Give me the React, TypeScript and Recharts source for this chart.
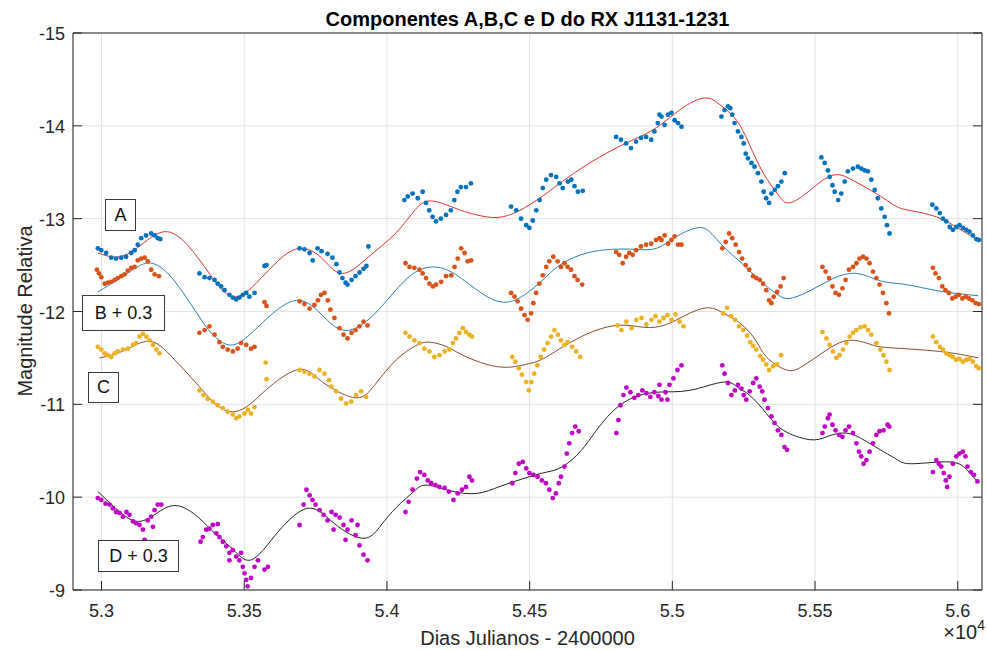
import { ComposedChart, Scatter, Line, XAxis, YAxis, CartesianGrid } from 'recharts';

type Pt = [number, number];

// Componente A (dias julianos - 2400000, magnitude)
const serieA: Pt[] = [
  [52987, -12.68], [52999, -12.66], [53016, -12.63], [53034, -12.58], [53051, -12.57], [53069, -12.58], [53086, -12.59], [53104, -12.63],
  [53116, -12.66], [53127, -12.72], [53139, -12.79], [53156, -12.82], [53174, -12.84], [53186, -12.82], [53197, -12.79], [53206, -12.78],
  [53343, -12.41], [53361, -12.37], [53378, -12.36], [53396, -12.34], [53407, -12.3], [53419, -12.27], [53431, -12.23], [53448, -12.18],
  [53460, -12.15], [53472, -12.13], [53483, -12.15], [53495, -12.18], [53507, -12.2], [53518, -12.16], [53536, -12.2], [53571, -12.49], [53578, -12.5],
  [53694, -12.68], [53711, -12.67], [53729, -12.63], [53740, -12.55], [53757, -12.68], [53771, -12.65], [53792, -12.62], [53809, -12.58],
  [53823, -12.51], [53834, -12.42], [53844, -12.36], [53855, -12.31], [53862, -12.29], [53876, -12.34], [53890, -12.38], [53904, -12.42],
  [53918, -12.46], [53928, -12.49], [53935, -12.7],
  [54061, -13.2], [54073, -13.24], [54090, -13.27], [54108, -13.22], [54125, -13.29], [54137, -13.17], [54148, -13.09], [54160, -13.02],
  [54172, -12.97], [54189, -13.0], [54207, -13.04], [54224, -13.09], [54236, -13.2], [54247, -13.29], [54259, -13.34], [54277, -13.34], [54294, -13.38],
  [54435, -13.13], [54453, -13.09], [54470, -13.0], [54488, -12.93], [54499, -12.9], [54511, -12.98], [54523, -13.09], [54535, -13.2],
  [54546, -13.33], [54558, -13.42], [54575, -13.47], [54593, -13.45], [54605, -13.38], [54616, -13.33], [54634, -13.4], [54646, -13.42],
  [54657, -13.35], [54669, -13.29], [54686, -13.3],
  [54803, -13.88], [54820, -13.85], [54838, -13.81], [54855, -13.76], [54873, -13.83], [54890, -13.87], [54908, -13.88], [54926, -13.85],
  [54937, -13.94], [54949, -14.03], [54955, -14.12], [54962, -14.1], [54973, -14.01], [54985, -14.12], [54997, -14.14], [55008, -14.06],
  [55020, -14.03], [55032, -13.99],
  [55172, -14.1], [55183, -14.17], [55195, -14.21], [55203, -14.19], [55210, -14.12], [55218, -14.03], [55230, -13.94], [55242, -13.88],
  [55250, -13.81], [55257, -13.7], [55265, -13.65], [55277, -13.6], [55288, -13.56], [55300, -13.49], [55312, -13.4], [55320, -13.29],
  [55329, -13.22], [55339, -13.17], [55347, -13.27], [55359, -13.31], [55370, -13.35], [55382, -13.4], [55394, -13.49],
  [55522, -13.66], [55534, -13.6], [55545, -13.52], [55551, -13.45], [55561, -13.36], [55569, -13.29], [55581, -13.2], [55592, -13.27],
  [55604, -13.4], [55615, -13.51], [55633, -13.54], [55650, -13.56], [55662, -13.54], [55674, -13.52], [55685, -13.51], [55697, -13.42],
  [55709, -13.31], [55720, -13.22], [55732, -13.11], [55744, -13.02], [55752, -12.93], [55761, -12.84],
  [55911, -13.15], [55925, -13.11], [55937, -13.06], [55948, -13.0], [55960, -12.97], [55972, -12.91], [55983, -12.88], [55995, -12.91],
  [56006, -12.93], [56018, -12.9], [56030, -12.88], [56041, -12.86], [56053, -12.82], [56065, -12.78], [56074, -12.77],
];

// Componente B + 0.3
const serieB: Pt[] = [
  [52984, -12.45], [52991, -12.41], [52999, -12.37], [53011, -12.3], [53022, -12.31], [53034, -12.32], [53046, -12.34], [53057, -12.36],
  [53069, -12.38], [53081, -12.4], [53092, -12.44], [53104, -12.47], [53116, -12.48], [53127, -12.55], [53139, -12.57], [53151, -12.58],
  [53162, -12.54], [53174, -12.45], [53186, -12.4], [53201, -12.38],
  [53343, -11.77], [53361, -11.8], [53378, -11.84], [53396, -11.75], [53413, -11.67], [53425, -11.62], [53442, -11.59], [53460, -11.57],
  [53477, -11.6], [53489, -11.66], [53507, -11.64], [53524, -11.6], [53536, -11.62], [53571, -12.1], [53578, -12.06],
  [53694, -12.11], [53711, -12.08], [53729, -12.03], [53746, -12.07], [53758, -12.12], [53769, -12.18], [53781, -12.2], [53793, -12.12],
  [53802, -12.02], [53816, -11.93], [53834, -11.82], [53848, -11.75], [53862, -11.71], [53876, -11.77], [53890, -11.8], [53904, -11.84],
  [53918, -11.89], [53932, -11.85],
  [54065, -12.52], [54079, -12.48], [54096, -12.47], [54114, -12.45], [54125, -12.41], [54137, -12.36], [54149, -12.3], [54161, -12.27],
  [54172, -12.29], [54190, -12.32], [54207, -12.38], [54225, -12.39], [54237, -12.48], [54248, -12.57], [54260, -12.68], [54272, -12.63],
  [54283, -12.54], [54295, -12.55],
  [54435, -12.2], [54447, -12.16], [54458, -12.11], [54470, -12.03], [54482, -11.96], [54493, -11.91], [54505, -11.98], [54513, -12.09],
  [54523, -12.2], [54534, -12.3], [54546, -12.39], [54558, -12.48], [54569, -12.54], [54583, -12.59], [54598, -12.54], [54610, -12.48],
  [54622, -12.52], [54633, -12.48], [54645, -12.45], [54657, -12.38], [54668, -12.34], [54684, -12.29],
  [54803, -12.64], [54814, -12.61], [54826, -12.52], [54838, -12.59], [54849, -12.63], [54861, -12.61], [54873, -12.66], [54890, -12.7],
  [54908, -12.72], [54926, -12.73], [54943, -12.77], [54955, -12.79], [54962, -12.77], [54973, -12.82], [54985, -12.73], [54997, -12.77],
  [55008, -12.81], [55020, -12.72], [55032, -12.72],
  [55175, -12.68], [55187, -12.75], [55199, -12.84], [55210, -12.79], [55222, -12.72], [55234, -12.64], [55245, -12.57], [55257, -12.5],
  [55269, -12.45], [55283, -12.38], [55294, -12.36], [55306, -12.34], [55318, -12.3], [55329, -12.23], [55339, -12.12], [55347, -12.09],
  [55355, -12.16], [55367, -12.21], [55379, -12.27], [55390, -12.36],
  [55526, -12.48], [55537, -12.43], [55549, -12.36], [55561, -12.27], [55572, -12.2], [55584, -12.18], [55596, -12.25], [55607, -12.34],
  [55619, -12.45], [55633, -12.48], [55645, -12.52], [55656, -12.57], [55668, -12.59], [55680, -12.57], [55691, -12.52], [55703, -12.43],
  [55715, -12.36], [55726, -12.29], [55738, -12.2], [55750, -12.09], [55759, -11.98],
  [55913, -12.47], [55922, -12.41], [55934, -12.36], [55946, -12.27], [55957, -12.23], [55969, -12.2], [55981, -12.14], [55993, -12.16],
  [56004, -12.18], [56016, -12.14], [56028, -12.16], [56039, -12.14], [56051, -12.12], [56063, -12.09], [56074, -12.08],
];

// Componente C
const serieC: Pt[] = [
  [52987, -11.62], [52999, -11.59], [53011, -11.55], [53022, -11.53], [53034, -11.51], [53046, -11.55], [53057, -11.57], [53075, -11.59],
  [53092, -11.6], [53110, -11.64], [53121, -11.66], [53133, -11.73], [53145, -11.76], [53157, -11.73], [53168, -11.69], [53180, -11.64],
  [53192, -11.59], [53203, -11.55],
  [53343, -11.15], [53357, -11.1], [53372, -11.06], [53390, -11.03], [53407, -10.99], [53425, -10.96], [53442, -10.92], [53460, -10.89],
  [53472, -10.85], [53483, -10.87], [53501, -10.9], [53513, -10.94], [53524, -10.9], [53536, -10.97], [53575, -11.45], [53578, -11.27],
  [53694, -11.37], [53711, -11.35], [53729, -11.33], [53746, -11.3], [53764, -11.37], [53781, -11.33], [53797, -11.26], [53805, -11.19],
  [53822, -11.14], [53839, -11.06], [53857, -11.01], [53875, -11.03], [53892, -11.1], [53909, -11.14], [53927, -11.08],
  [54065, -11.77], [54079, -11.73], [54096, -11.69], [54114, -11.66], [54131, -11.6], [54149, -11.57], [54166, -11.51], [54184, -11.53],
  [54202, -11.57], [54219, -11.59], [54231, -11.66], [54242, -11.71], [54254, -11.77], [54266, -11.82], [54277, -11.78], [54289, -11.75], [54298, -11.73],
  [54439, -11.51], [54450, -11.46], [54462, -11.39], [54473, -11.32], [54488, -11.24], [54497, -11.15], [54506, -11.24], [54516, -11.33],
  [54527, -11.42], [54539, -11.51], [54551, -11.59], [54563, -11.66], [54575, -11.73], [54587, -11.8], [54599, -11.75], [54610, -11.69],
  [54622, -11.64], [54633, -11.67], [54649, -11.62], [54663, -11.57], [54677, -11.51],
  [54808, -11.85], [54822, -11.8], [54839, -11.89], [54857, -11.82], [54874, -11.91], [54892, -11.93], [54909, -11.86], [54927, -11.91],
  [54941, -11.95], [54955, -11.89], [54969, -11.93], [54983, -11.96], [54997, -11.91], [55011, -11.97], [55025, -11.89], [55039, -11.84],
  [55178, -11.98], [55192, -12.04], [55206, -11.95], [55220, -11.91], [55234, -11.84], [55248, -11.8], [55262, -11.74], [55273, -11.67],
  [55283, -11.63], [55294, -11.59], [55308, -11.52], [55318, -11.48], [55329, -11.43], [55339, -11.37], [55353, -11.41], [55367, -11.43], [55381, -11.53],
  [55526, -11.78], [55540, -11.71], [55551, -11.64], [55563, -11.57], [55575, -11.5], [55586, -11.53], [55598, -11.59], [55610, -11.66],
  [55621, -11.73], [55633, -11.77], [55645, -11.8], [55659, -11.83], [55674, -11.84], [55686, -11.8], [55697, -11.75], [55715, -11.66],
  [55729, -11.59], [55740, -11.53], [55750, -11.46], [55761, -11.37],
  [55913, -11.73], [55925, -11.67], [55937, -11.62], [55948, -11.59], [55960, -11.55], [55972, -11.53], [55983, -11.51], [55995, -11.48],
  [56006, -11.49], [56018, -11.46], [56030, -11.48], [56041, -11.49], [56053, -11.46], [56065, -11.41], [56074, -11.39],
];

// Componente D + 0.3
const serieD: Pt[] = [
  [52987, -9.99], [52999, -9.97], [53014, -9.93], [53028, -9.92], [53040, -9.88], [53051, -9.84], [53063, -9.83], [53075, -9.79],
  [53087, -9.84], [53098, -9.81], [53110, -9.74], [53121, -9.72], [53133, -9.7], [53145, -9.65], [53151, -9.54], [53162, -9.75],
  [53174, -9.79], [53180, -9.68], [53186, -9.86], [53197, -9.92], [53209, -9.92],
  [53347, -9.52], [53355, -9.57], [53367, -9.65], [53378, -9.66], [53390, -9.7], [53402, -9.61], [53407, -9.71], [53413, -9.57],
  [53425, -9.52], [53437, -9.47], [53448, -9.4], [53448, -9.32], [53460, -9.43], [53472, -9.36], [53483, -9.32], [53489, -9.4],
  [53495, -9.25], [53501, -9.18], [53507, -9.11], [53512, -9.04], [53524, -9.13], [53536, -9.25], [53548, -9.32], [53571, -9.22], [53583, -9.25],
  [53694, -9.7], [53708, -9.92], [53718, -10.08], [53729, -10.02], [53739, -9.97], [53750, -9.92], [53764, -9.86], [53778, -9.81],
  [53792, -9.75], [53806, -9.84], [53813, -9.65], [53820, -9.81], [53834, -9.78], [53848, -9.7], [53855, -9.54], [53862, -9.65],
  [53876, -9.75], [53890, -9.59], [53897, -9.7], [53904, -9.48], [53918, -9.38], [53932, -9.32],
  [54065, -9.84], [54076, -9.95], [54090, -10.08], [54105, -10.2], [54116, -10.27], [54131, -10.24], [54143, -10.18], [54155, -10.15],
  [54170, -10.13], [54184, -10.11], [54202, -10.1], [54217, -10.06], [54233, -9.97], [54248, -10.04], [54263, -10.08], [54277, -10.11],
  [54289, -10.22], [54298, -10.18],
  [54439, -10.15], [54450, -10.26], [54462, -10.36], [54476, -10.38], [54488, -10.31], [54499, -10.26], [54513, -10.24], [54528, -10.22],
  [54543, -10.18], [54557, -10.15], [54569, -10.08], [54581, -9.99], [54592, -10.04], [54602, -10.15], [54610, -10.22], [54622, -10.33],
  [54630, -10.47], [54639, -10.58], [54649, -10.69], [54660, -10.76], [54672, -10.71],
  [54804, -10.69], [54811, -10.83], [54818, -10.99], [54829, -11.1], [54839, -11.18], [54853, -11.13], [54867, -11.07], [54881, -11.1],
  [54895, -11.15], [54909, -11.12], [54923, -11.08], [54937, -11.13], [54951, -11.09], [54955, -11.21], [54962, -11.05], [54976, -11.13],
  [54983, -11.05], [54990, -11.21], [55004, -11.28], [55018, -11.37], [55032, -11.42],
  [55175, -11.42], [55183, -11.33], [55195, -11.23], [55207, -11.1], [55219, -11.15], [55230, -11.21], [55242, -11.17], [55250, -11.1],
  [55259, -11.05], [55271, -11.14], [55283, -11.23], [55294, -11.28], [55306, -11.19], [55315, -11.14], [55323, -11.05], [55335, -10.96],
  [55347, -10.87], [55358, -10.8], [55370, -10.72], [55382, -10.67], [55393, -10.54], [55402, -10.51],
  [55526, -10.69], [55534, -10.76], [55545, -10.85], [55551, -10.89], [55561, -10.78], [55572, -10.72], [55584, -10.67], [55596, -10.65],
  [55607, -10.72], [55619, -10.76], [55633, -10.69], [55645, -10.58], [55654, -10.49], [55662, -10.44], [55670, -10.36], [55680, -10.4],
  [55691, -10.49], [55703, -10.58], [55715, -10.67], [55726, -10.71], [55740, -10.72], [55754, -10.78], [55760, -10.76],
  [55913, -10.27], [55925, -10.4], [55934, -10.36], [55942, -10.33], [55951, -10.26], [55958, -10.18], [55963, -10.11], [55971, -10.22],
  [55983, -10.36], [55995, -10.44], [56006, -10.47], [56018, -10.49], [56027, -10.44], [56034, -10.33], [56046, -10.27], [56057, -10.24], [56069, -10.17],
];

// curvas ajustadas
const ajusteA: Pt[] = [
  [52987, -12.63], [53063, -12.59], [53140, -12.72], [53221, -12.86], [53300, -12.72], [53380, -12.4], [53459, -12.16], [53540, -12.3],
  [53620, -12.55], [53694, -12.68], [53770, -12.58], [53844, -12.41], [53940, -12.6], [54033, -12.85], [54100, -13.1], [54160, -13.19],
  [54250, -13.1], [54330, -13.03], [54405, -13.02], [54500, -13.15], [54615, -13.4], [54700, -13.58], [54790, -13.74], [54870, -13.86],
  [54944, -13.98], [55030, -14.18], [55113, -14.3], [55170, -14.22], [55225, -14.06], [55270, -13.8], [55319, -13.49], [55370, -13.26],
  [55410, -13.17], [55480, -13.3], [55564, -13.47], [55640, -13.4], [55715, -13.27], [55780, -13.14], [55830, -13.09], [55925, -13.02],
  [56000, -12.9], [56072, -12.77],
];

const ajusteB: Pt[] = [
  [52987, -12.21], [53060, -12.35], [53120, -12.47], [53175, -12.52], [53250, -12.35], [53343, -11.94], [53400, -11.72], [53460, -11.64],
  [53530, -11.78], [53600, -11.98], [53683, -12.12], [53760, -12.0], [53844, -11.8], [53930, -11.9], [54000, -12.12], [54080, -12.38],
  [54160, -12.48], [54240, -12.4], [54330, -12.2], [54419, -12.1], [54500, -12.22], [54560, -12.38], [54615, -12.52], [54700, -12.63],
  [54790, -12.67], [54870, -12.67], [54944, -12.68], [55010, -12.8], [55084, -12.9], [55130, -12.86], [55179, -12.7], [55250, -12.5],
  [55319, -12.3], [55370, -12.18], [55410, -12.14], [55480, -12.22], [55560, -12.35], [55645, -12.41], [55730, -12.33], [55820, -12.29],
  [55935, -12.22], [56072, -12.17],
];

const ajusteC: Pt[] = [
  [52993, -11.5], [53080, -11.58], [53168, -11.68], [53250, -11.5], [53343, -11.19], [53400, -11.0], [53460, -10.92], [53520, -11.0],
  [53578, -11.16], [53683, -11.37], [53750, -11.3], [53799, -11.19], [53893, -11.07], [53960, -11.22], [54033, -11.48], [54100, -11.63],
  [54149, -11.67], [54210, -11.62], [54265, -11.53], [54350, -11.43], [54429, -11.4], [54500, -11.44], [54558, -11.51], [54675, -11.72],
  [54804, -11.85], [54900, -11.83], [54979, -11.86], [55060, -11.98], [55130, -12.04], [55180, -11.98], [55235, -11.88], [55290, -11.7],
  [55330, -11.51], [55400, -11.37], [55450, -11.4], [55505, -11.51], [55570, -11.64], [55634, -11.69], [55700, -11.64], [55760, -11.61],
  [55935, -11.57], [56072, -11.5],
];

const ajusteD: Pt[] = [
  [52987, -10.06], [53050, -9.88], [53121, -9.74], [53190, -9.82], [53262, -9.91], [53340, -9.78], [53400, -9.6], [53460, -9.44],
  [53518, -9.32], [53580, -9.48], [53634, -9.68], [53722, -9.88], [53799, -9.76], [53860, -9.62], [53928, -9.56], [53980, -9.7],
  [54033, -9.89], [54090, -10.05], [54137, -10.13], [54220, -10.07], [54314, -10.04], [54400, -10.12], [54499, -10.22], [54560, -10.27],
  [54616, -10.33], [54680, -10.5], [54734, -10.72], [54825, -11.01], [54944, -11.13], [55060, -11.15], [55179, -11.24], [55230, -11.18],
  [55270, -11.1], [55330, -10.9], [55389, -10.72], [55480, -10.62], [55540, -10.65], [55610, -10.69], [55680, -10.6], [55740, -10.49],
  [55790, -10.4], [55844, -10.36], [55970, -10.38], [56030, -10.3], [56072, -10.16],
];

const xTicks = [53000, 53500, 54000, 54500, 55000, 55500, 56000];
const yTicks = [-15, -14, -13, -12, -11, -10, -9];
const xDomain = [52900, 56085];
const yDomain = [-15, -9];

const FONT = '"Liberation Sans", Arial, Helvetica, sans-serif';
const AXIS = '#262626';
const TICK = 9;

const rows = (pts: Pt[]) => pts.map(([x, y]) => ({ x, y }));

const dot = (color: string) => (p: any) => <circle cx={p.cx} cy={p.cy} r={2.4} fill={color} />;

function BottomTick({ x, y, payload }: any) {
  const axisY = y - 12;
  return (
    <g>
      <line x1={x} x2={x} y1={axisY} y2={axisY - TICK} stroke={AXIS} />
      <text x={x} y={axisY + 27} textAnchor="middle" fill={AXIS} fontSize={18} fontFamily={FONT}>
        {String(+(payload.value / 10000).toFixed(2))}
      </text>
    </g>
  );
}

function LeftTick({ x, y, payload }: any) {
  const axisX = x + 8;
  return (
    <g>
      <line x1={axisX} x2={axisX + TICK} y1={y} y2={y} stroke={AXIS} />
      <text x={x} y={y + 7} textAnchor="end" fill={AXIS} fontSize={18} fontFamily={FONT}>
        {payload.value}
      </text>
    </g>
  );
}

const TopTick = ({ x, y }: any) => <line x1={x} x2={x} y1={y} y2={y + TICK} stroke={AXIS} />;
const RightTick = ({ x, y }: any) => <line x1={x} x2={x - TICK} y1={y} y2={y} stroke={AXIS} />;

const boxStyle = (left: number, top: number, width: number, height: number): React.CSSProperties => ({
  position: 'absolute', left, top, width, height, boxSizing: 'border-box',
  border: '1px solid #3a3a3a', background: '#fff', fontSize: 18, fontFamily: FONT, color: '#111',
  display: 'flex', alignItems: 'center', justifyContent: 'center', whiteSpace: 'nowrap',
});

export default function App() {
  return (
    <div style={{ position: 'absolute', left: 0, top: 0, width: 987, height: 650, background: '#fff' }}>
      <ComposedChart width={987} height={650} margin={{ top: 32, right: 4, bottom: 0, left: 0 }}>
        <CartesianGrid stroke="#e2e2e2" />
        <XAxis dataKey="x" type="number" domain={xDomain} allowDataOverflow ticks={xTicks} interval={0}
          height={60} tickSize={0} tickMargin={12} tickLine={false} stroke={AXIS} tick={<BottomTick />} />
        <XAxis xAxisId="top" orientation="top" type="number" domain={xDomain} allowDataOverflow ticks={xTicks} interval={0}
          height={1} tickSize={0} tickMargin={0} tickLine={false} stroke={AXIS} tick={<TopTick />} />
        <YAxis dataKey="y" type="number" domain={yDomain} allowDataOverflow reversed ticks={yTicks} interval={0}
          width={73} tickSize={0} tickMargin={8} tickLine={false} stroke={AXIS} tick={<LeftTick />} />
        <YAxis yAxisId="right" orientation="right" type="number" domain={yDomain} allowDataOverflow reversed ticks={yTicks} interval={0}
          width={1} tickSize={0} tickMargin={0} tickLine={false} stroke={AXIS} tick={<RightTick />} />

        <Scatter data={rows(serieA)} fill="#0072BD" shape={dot('#0072BD')} isAnimationActive={false} />
        <Scatter data={rows(serieB)} fill="#D95319" shape={dot('#D95319')} isAnimationActive={false} />
        <Scatter data={rows(serieC)} fill="#EDB120" shape={dot('#EDB120')} isAnimationActive={false} />
        <Scatter data={rows(serieD)} fill="#C000C4" shape={dot('#C000C4')} isAnimationActive={false} />

        <Line data={rows(ajusteA)} dataKey="y" type="natural" stroke="#DD3333" strokeWidth={1} dot={false} isAnimationActive={false} />
        <Line data={rows(ajusteB)} dataKey="y" type="natural" stroke="#2A80B9" strokeWidth={1} dot={false} isAnimationActive={false} />
        <Line data={rows(ajusteC)} dataKey="y" type="natural" stroke="#8E4A2C" strokeWidth={1} dot={false} isAnimationActive={false} />
        <Line data={rows(ajusteD)} dataKey="y" type="natural" stroke="#222222" strokeWidth={1} dot={false} isAnimationActive={false} />
      </ComposedChart>

      <div style={{ position: 'absolute', left: 73, top: 9, width: 909, textAlign: 'center', fontFamily: FONT, fontSize: 20, lineHeight: '20px', fontWeight: 'bold', color: '#000' }}>
        Componentes A,B,C e D do RX J1131-1231
      </div>
      <div style={{ position: 'absolute', left: 73, top: 628, width: 909, textAlign: 'center', fontFamily: FONT, fontSize: 20, lineHeight: '20px', color: AXIS }}>
        Dias Julianos - 2400000
      </div>
      <div style={{ position: 'absolute', left: 25, top: 311, transform: 'translate(-50%, -50%) rotate(-90deg)', whiteSpace: 'nowrap', fontFamily: FONT, fontSize: 20, lineHeight: '20px', color: AXIS }}>
        Magnitude Relativa
      </div>
      <div style={{ position: 'absolute', right: 2, top: 622, fontFamily: FONT, fontSize: 20, lineHeight: '20px', color: AXIS }}>
        ×10<sup style={{ fontSize: 14, verticalAlign: 'top', lineHeight: '14px', position: 'relative', top: -4 }}>4</sup>
      </div>

      <div style={boxStyle(105, 199, 31, 32)}>A</div>
      <div style={boxStyle(82, 295, 83, 36)}>B + 0.3</div>
      <div style={boxStyle(88, 372, 31, 31)}>C</div>
      <div style={boxStyle(98, 540, 81, 32)}>D + 0.3</div>
    </div>
  );
}
